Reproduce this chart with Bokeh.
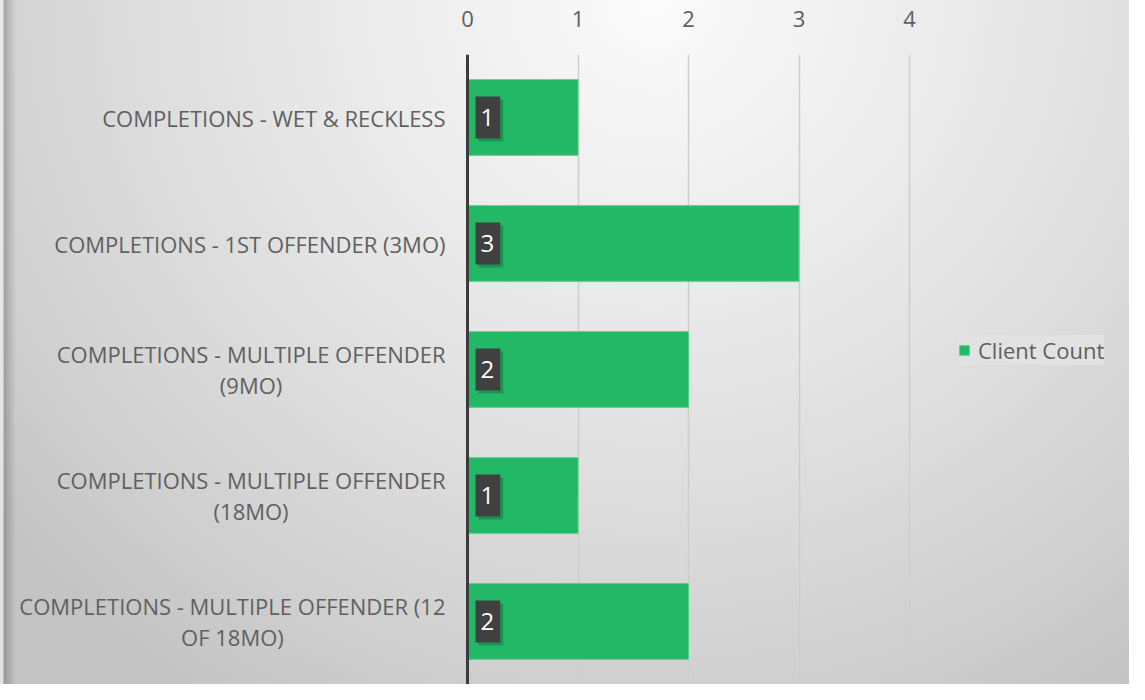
from bokeh.plotting import figure
from bokeh.models import ColumnDataSource, FactorRange, Range1d, Span, Legend, LegendItem, FixedTicker
from bokeh.core.properties import value
from bokeh.embed import file_html
from bokeh.resources import INLINE

categories = [
    "COMPLETIONS - WET & RECKLESS",
    "COMPLETIONS - 1ST OFFENDER (3MO)",
    "COMPLETIONS - MULTIPLE OFFENDER\n(9MO)",
    "COMPLETIONS - MULTIPLE OFFENDER\n(18MO)",
    "COMPLETIONS - MULTIPLE OFFENDER (12\nOF 18MO)",
]
client_count = [1, 3, 2, 1, 2]
x_ticks = [0, 1, 2, 3, 4]
series_name = "Client Count"

FONT = "Open Sans"
TXT = "#606060"
GREEN = "#22b866"

# layout constants (pixels)
W, H = 1129, 684
ZERO_PX = 467      # where value 0 sits
UNIT_PX = 110.5    # pixels per unit of value
TOP = 54

src = ColumnDataSource(dict(
    cat=categories,
    val=client_count,
    base=[0] * len(client_count),
    lbl=[str(v) for v in client_count],
))

p = figure(
    width=W, height=H,
    y_range=FactorRange(factors=categories[::-1], range_padding=0),
    x_range=Range1d(-ZERO_PX / UNIT_PX, (W - ZERO_PX) / UNIT_PX),
    x_axis_location="above", y_axis_location=None,
    output_backend="svg", toolbar_location=None,
    min_border_left=0, min_border_right=0, min_border_top=TOP, min_border_bottom=0,
)
p.border_fill_color = None
p.background_fill_color = None
p.outline_line_color = None
p.styles = {
    "background-image": "linear-gradient(90deg, rgba(255,255,255,0.5) 0px, rgba(255,255,255,0.5) 3px, rgba(0,0,0,0.22) 4px, rgba(0,0,0,0.0) 16px), radial-gradient(ellipse 75% 120% at 58% 0%, #fbfbfb 0%, #e6e6e6 45%, #d2d2d2 80%, #c4c4c4 100%)"
}

r = p.hbar(y="cat", right="val", left="base", height=0.6, source=src,
           fill_color=GREEN, line_color="#4ccf84", line_width=1)

# x axis (top)
xa = p.xaxis[0]
xa.ticker = FixedTicker(ticks=x_ticks)
xa.axis_line_color = None
xa.major_tick_line_color = None
xa.minor_tick_line_color = None
xa.major_label_text_font = FONT
xa.major_label_text_font_size = "22px"
xa.major_label_text_color = TXT
xa.major_label_standoff = 22

p.ygrid.grid_line_color = None
p.xgrid.ticker = FixedTicker(ticks=x_ticks[1:])
p.xgrid.grid_line_color = "#cdcdcd"
p.xgrid.grid_line_width = 1.5

# category labels (right-anchored block, centred lines)
p.text(x="base", y="cat", text="cat", source=src, x_offset=-22,
       anchor="center_right", text_align="center", text_baseline="middle",
       text_font=value(FONT), text_font_size="22px", text_color=TXT,
       text_line_height=1.05)

p.add_layout(Span(location=0, dimension="height", line_color="#3b3b3b", line_width=3))

# data labels: shadow then box
p.text(x="base", y="cat", text="lbl", source=src, x_offset=11, y_offset=3,
       text_font=value(FONT), text_font_size="24px", text_align="left",
       text_baseline="middle", text_alpha=0.0,
       background_fill_color="#000000", background_fill_alpha=0.2, padding=[5, 6, 12, 13])
p.text(x="base", y="cat", text="lbl", source=src, x_offset=8, y_offset=0,
       text_font=value(FONT), text_font_size="24px", text_align="left",
       text_baseline="middle", text_color="white",
       background_fill_color="#404040", padding=[5, 6, 12, 13])

legend = Legend(items=[LegendItem(label=series_name, renderers=[r])],
                location=(958, 319), orientation="vertical",
                background_fill_color="#e2e2e2", background_fill_alpha=1.0,
                border_line_color=None,
                label_text_font=FONT, label_text_font_size="22px",
                label_text_color=TXT, glyph_width=12, glyph_height=12,
                label_height=26, label_standoff=8, padding=12, margin=0)
p.add_layout(legend, "center")

open("out.html", "w").write(file_html(p, INLINE))
